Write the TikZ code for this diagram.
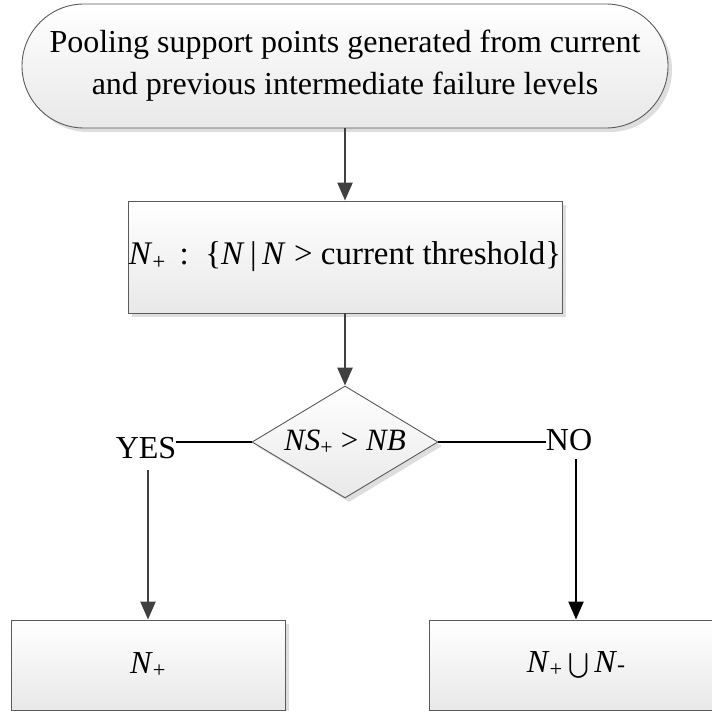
\documentclass[tikz,border=0pt]{standalone}
\usepackage{exscale}
\usepackage{fontspec}
\setmainfont{Liberation Serif}
\usetikzlibrary{shapes.geometric,arrows.meta,shadows}
\definecolor{edgegray}{HTML}{5A5A5A}
\definecolor{linkgray}{HTML}{404040}
\newcommand{\plussub}{\textsubscript{+}}
\newcommand{\minussub}{{\fontsize{24}{28}\selectfont -}}
\begin{document}
\begin{tikzpicture}[x=1pt,y=1pt,
  flowbox/.style={draw=edgegray, line width=0.9pt, top color=white, bottom color=black!9,
    drop shadow={shadow xshift=4pt, shadow yshift=-4pt, fill=black!13, opacity=1}},
  procbox/.style={flowbox, rectangle, inner sep=0pt},
  decision/.style={flowbox, diamond, inner sep=0pt},
  link/.style={draw=linkgray, line width=2.4pt, -{Triangle[length=18pt,width=15pt]}},
  branch/.style={draw=black, line width=1.9pt},
  branchlink/.style={draw=black, line width=2.2pt, -{Triangle[length=18pt,width=15pt]}},
  answer/.style={inner sep=0pt, font=\fontsize{32}{38}\selectfont}
]
\useasboundingbox (0,0) rectangle (712,-711);

% start terminal
\node[flowbox, rectangle, rounded corners=62pt, minimum width=646pt, minimum height=124pt,
      align=center, font=\fontsize{32}{42}\selectfont] (start) at (345,-66)
  {Pooling support points generated from current\\and previous intermediate failure levels};

% selection step
\node[procbox, minimum width=434pt, minimum height=112pt,
      font=\fontsize{33}{38}\selectfont] (select) at (345,-257)
  {\textit{N}\plussub\ \,:\, \{\textit{N}\,|\,\textit{N} > current threshold\}};

% decision
\node[decision, minimum width=186pt, minimum height=112pt] (dec) at (345,-442) {};
\node[inner sep=0pt, font=\fontsize{31}{36}\selectfont] (dectext) at (dec.center)
  {\textit{NS}\plussub\ > \textit{NB}};

% branch labels
\node[answer] (yes) at (146,-448) {YES};
\node[answer] (no) at (569,-440) {NO};

% results
\node[procbox, minimum width=274pt, minimum height=90pt,
      font=\fontsize{32}{38}\selectfont] (keep) at (148,-665) {\textit{N}\plussub};
\node[procbox, minimum width=294pt, minimum height=90pt,
      font=\fontsize{32}{38}\selectfont] (merge) at (576,-665)
  {\textit{N}\plussub\,$\bigcup$\,\textit{N}\minussub};

% connectors
\draw[link] (start.south) -- (select.north);
\draw[link] (select.south) -- (dec.north);
\draw[branch] (dec.west) -- (dec.west -| yes.east);
\draw[branch] (dec.east) -- (dec.east -| no.west);
\coordinate (yesdrop) at (148,-470);
\coordinate (nodrop) at (576,-459);
\draw[link] (yesdrop) -- (keep.north);
\draw[branchlink] (nodrop) -- (merge.north);
\end{tikzpicture}
\end{document}
